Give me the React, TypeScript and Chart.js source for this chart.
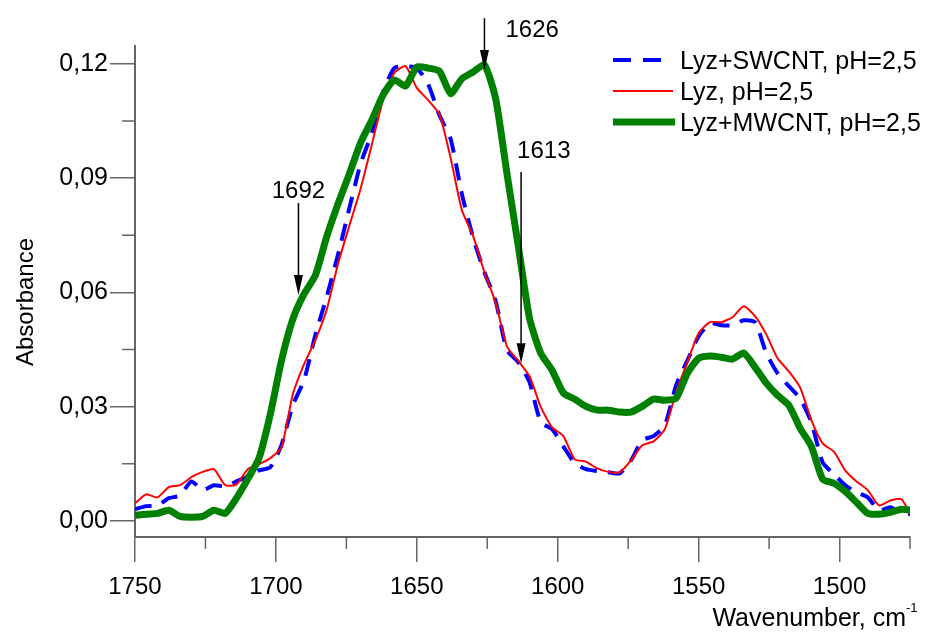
import React, { useEffect, useRef } from 'react';
import { Chart, registerables } from 'chart.js';

Chart.register(...registerables);

// ---------- data ----------
const wavenumbers = [
  1750, 1746, 1742, 1738, 1734, 1730, 1726, 1722, 1718, 1714,
  1710, 1706, 1702, 1698, 1694, 1690, 1686, 1682, 1678, 1674,
  1670, 1666, 1662, 1658, 1654, 1650, 1646, 1642, 1638, 1634,
  1630, 1626, 1622, 1618, 1614, 1610, 1606, 1602, 1598, 1594,
  1590, 1586, 1582, 1578, 1574, 1570, 1566, 1562, 1558, 1554,
  1550, 1546, 1542, 1538, 1534, 1530, 1526, 1522, 1518, 1514,
  1510, 1506, 1502, 1498, 1494, 1490, 1486, 1482, 1478, 1474,
];

const lyzSwcnt = [
  0.0031, 0.0039, 0.0041, 0.0060, 0.0067, 0.0104, 0.0081, 0.0094, 0.0091, 0.0104,
  0.0117, 0.0133, 0.0141, 0.0200, 0.0304, 0.0370, 0.0488, 0.0588, 0.0698, 0.0819,
  0.0937, 0.1018, 0.1126, 0.1189, 0.1194, 0.1189, 0.1147, 0.1066, 0.1003, 0.0858,
  0.0743, 0.0653, 0.0577, 0.0448, 0.0417, 0.0364, 0.0259, 0.0241, 0.0196, 0.0152,
  0.0136, 0.0131, 0.0128, 0.0125, 0.0159, 0.0212, 0.0223, 0.0251, 0.0356, 0.0421,
  0.0485, 0.0519, 0.0514, 0.0514, 0.0527, 0.0522, 0.0441, 0.0388, 0.0354, 0.0322,
  0.0259, 0.0154, 0.0123, 0.0094, 0.0075, 0.0062, 0.0028, 0.0036, 0.0020, 0.0018,
];

const lyz = [
  0.0046, 0.0070, 0.0062, 0.0089, 0.0094, 0.0115, 0.0129, 0.0136, 0.0094, 0.0096,
  0.0136, 0.0149, 0.0165, 0.0194, 0.0333, 0.0412, 0.0475, 0.0554, 0.0674, 0.0774,
  0.0871, 0.0987, 0.1105, 0.1176, 0.1194, 0.1137, 0.1105, 0.1068, 0.0953, 0.0816,
  0.0748, 0.0653, 0.0572, 0.0458, 0.0420, 0.0380, 0.0299, 0.0246, 0.0223, 0.0162,
  0.0156, 0.0138, 0.0129, 0.0128, 0.0159, 0.0199, 0.0209, 0.0241, 0.0338, 0.0417,
  0.0493, 0.0522, 0.0522, 0.0535, 0.0564, 0.0538, 0.0490, 0.0427, 0.0393, 0.0351,
  0.0265, 0.0204, 0.0182, 0.0133, 0.0104, 0.0081, 0.0041, 0.0054, 0.0057, 0.0004,
];

const lyzMwcnt = [
  0.0015, 0.0018, 0.0020, 0.0028, 0.0012, 0.0010, 0.0012, 0.0028, 0.0020, 0.0060,
  0.0110, 0.0165, 0.0280, 0.0422, 0.0530, 0.0596, 0.0645, 0.0746, 0.0832, 0.0910,
  0.0992, 0.1052, 0.1118, 0.1158, 0.1142, 0.1192, 0.1189, 0.1181, 0.1122, 0.1161,
  0.1179, 0.1197, 0.1108, 0.0911, 0.0722, 0.0532, 0.0440, 0.0396, 0.0336, 0.0320,
  0.0301, 0.0291, 0.0291, 0.0286, 0.0286, 0.0301, 0.0320, 0.0317, 0.0322, 0.0388,
  0.0427, 0.0433, 0.0430, 0.0425, 0.0441, 0.0404, 0.0362, 0.0330, 0.0304, 0.0244,
  0.0196, 0.0110, 0.0099, 0.0078, 0.0049, 0.0020, 0.0018, 0.0023, 0.0031, 0.0028,
];

const seriesLabels = ['Lyz+SWCNT, pH=2,5', 'Lyz, pH=2,5', 'Lyz+MWCNT, pH=2,5'];

const xTicks = [1750, 1700, 1650, 1600, 1550, 1500];
const xMinorTicks = [1725, 1675, 1625, 1575, 1525, 1475];
const yTicks = [0, 0.03, 0.06, 0.09, 0.12];
const yMinorTicks = [0.015, 0.045, 0.075, 0.105];

const annotWn = [1692, 1626, 1613];
const annotLabels = ['1692', '1626', '1613'];
const annotTip = [0.0593, 0.1184, 0.0414];
const annotTail = [0.0835, 0.132, 0.0916];

const xTitle = 'Wavenumber, cm';
const xTitleSup = '-1';
const yTitle = 'Absorbance';

// ---------- styles ----------
const FONT = "'Liberation Sans', Arial, Helvetica, sans-serif";
const AXIS_COLOR = '#666666';
const seriesColors = ['#0000ff', '#ff0000', '#008000'];
const seriesWidths = [4, 2, 7];
const seriesDash = [[17, 11], [], []];
const annotStyle = [
  { align: 'center', dx: 0, dy: -5 },
  { align: 'left', dx: 21, dy: 19 },
  { align: 'left', dx: -4, dy: -14 },
];

const decorPlugin = {
  id: 'decor',
  afterDraw(chart: any) {
    const { ctx, chartArea, scales } = chart;
    const xs = scales.x;
    const ys = scales.y;
    ctx.save();

    // minor ticks
    ctx.strokeStyle = AXIS_COLOR;
    ctx.lineWidth = 1.5;
    ctx.beginPath();
    xMinorTicks.forEach((v) => {
      const px = xs.getPixelForValue(v);
      ctx.moveTo(px, chartArea.bottom);
      ctx.lineTo(px, chartArea.bottom + 12);
    });
    yMinorTicks.forEach((v) => {
      const py = ys.getPixelForValue(v);
      ctx.moveTo(chartArea.left, py);
      ctx.lineTo(chartArea.left - 13, py);
    });
    ctx.stroke();

    // annotations
    ctx.fillStyle = '#000';
    ctx.strokeStyle = '#000';
    ctx.font = `24px ${FONT}`;
    annotWn.forEach((w, i) => {
      const x = xs.getPixelForValue(w);
      const tipY = ys.getPixelForValue(annotTip[i]);
      const tailY = ys.getPixelForValue(annotTail[i]);
      const headLen = 20;
      ctx.lineWidth = 1.5;
      ctx.beginPath();
      ctx.moveTo(x, tailY);
      ctx.lineTo(x, tipY - headLen + 2);
      ctx.stroke();
      ctx.beginPath();
      ctx.moveTo(x, tipY);
      ctx.lineTo(x - 4.5, tipY - headLen);
      ctx.lineTo(x + 4.5, tipY - headLen);
      ctx.closePath();
      ctx.fill();
      const st = annotStyle[i];
      ctx.textAlign = st.align;
      ctx.textBaseline = 'alphabetic';
      ctx.fillText(annotLabels[i], x + st.dx, tailY + st.dy);
    });

    // legend
    const legendX0 = 613;
    const legendY0 = 60;
    const legendStep = 31;
    const lineEnds = [662, 673, 675];
    seriesLabels.forEach((lab, i) => {
      const y = legendY0 + i * legendStep;
      ctx.strokeStyle = seriesColors[i];
      ctx.lineWidth = seriesWidths[i];
      ctx.setLineDash(i === 0 ? [18, 12] : []);
      ctx.beginPath();
      ctx.moveTo(legendX0, y);
      ctx.lineTo(lineEnds[i], y);
      ctx.stroke();
      ctx.setLineDash([]);
      ctx.fillStyle = '#000';
      ctx.font = `25px ${FONT}`;
      ctx.textAlign = 'left';
      ctx.textBaseline = 'alphabetic';
      ctx.fillText(lab, 680, y + 9);
    });

    // axis titles
    ctx.fillStyle = '#000';
    ctx.font = `25px ${FONT}`;
    ctx.textAlign = 'right';
    ctx.textBaseline = 'alphabetic';
    ctx.fillText(xTitle, 906, 626);
    ctx.font = `13px ${FONT}`;
    ctx.textAlign = 'left';
    ctx.fillText(xTitleSup, 906, 612);

    ctx.save();
    ctx.translate(33, 302);
    ctx.rotate(-Math.PI / 2);
    ctx.font = `24px ${FONT}`;
    ctx.textAlign = 'center';
    ctx.textBaseline = 'alphabetic';
    ctx.fillText(yTitle, 0, 0);
    ctx.restore();

    ctx.restore();
  },
};

export default function App() {
  const canvasRef = useRef<HTMLCanvasElement | null>(null);

  useEffect(() => {
    if (!canvasRef.current) return;
    const series = [lyzSwcnt, lyz, lyzMwcnt];
    const chart = new Chart(canvasRef.current, {
      type: 'line',
      data: {
        datasets: series.map((vals, i) => ({
          label: seriesLabels[i],
          data: wavenumbers.map((w, j) => ({ x: w, y: vals[j] })),
          borderColor: seriesColors[i],
          backgroundColor: seriesColors[i],
          borderWidth: seriesWidths[i],
          borderDash: seriesDash[i],
          pointRadius: 0,
          tension: 0.2,
          fill: false,
          order: 3 - i,
        })),
      },
      options: {
        responsive: false,
        animation: false,
        devicePixelRatio: 1,
        layout: { padding: { top: 46, right: 15, bottom: 0, left: 0 } },
        plugins: {
          legend: { display: false },
          tooltip: { enabled: false },
          title: { display: false },
        },
        scales: {
          x: {
            type: 'linear',
            reverse: true,
            min: 1475,
            max: 1750,
            afterBuildTicks: (scale: any) => {
              scale.ticks = xTicks.map((v) => ({ value: v }));
            },
            afterFit: (scale: any) => {
              scale.height = 98;
            },
            ticks: {
              font: { family: FONT, size: 24 },
              color: '#000',
              padding: 11,
              maxRotation: 0,
              autoSkip: false,
              callback: (v: any) => String(v),
            },
            grid: {
              drawOnChartArea: false,
              drawTicks: true,
              tickLength: 25,
              color: AXIS_COLOR,
              lineWidth: 1.5,
            },
            border: { display: true, color: AXIS_COLOR, width: 2 },
          },
          y: {
            type: 'linear',
            min: -0.0042,
            max: 0.1247,
            afterBuildTicks: (scale: any) => {
              scale.ticks = yTicks.map((v) => ({ value: v }));
            },
            afterFit: (scale: any) => {
              scale.width = 135;
            },
            ticks: {
              font: { family: FONT, size: 25 },
              color: '#000',
              padding: 2,
              autoSkip: false,
              callback: (v: any) => Number(v).toFixed(2).replace('.', ','),
            },
            grid: {
              drawOnChartArea: false,
              drawTicks: true,
              tickLength: 25,
              color: AXIS_COLOR,
              lineWidth: 1.5,
            },
            border: { display: true, color: AXIS_COLOR, width: 2 },
          },
        },
      },
      plugins: [decorPlugin],
    } as any);
    return () => chart.destroy();
  }, []);

  return (
    <div style={{ position: 'absolute', left: 0, top: 0, width: 925, height: 635, background: '#fff' }}>
      <canvas ref={canvasRef} width={925} height={635} style={{ width: 925, height: 635, display: 'block' }} />
    </div>
  );
}
